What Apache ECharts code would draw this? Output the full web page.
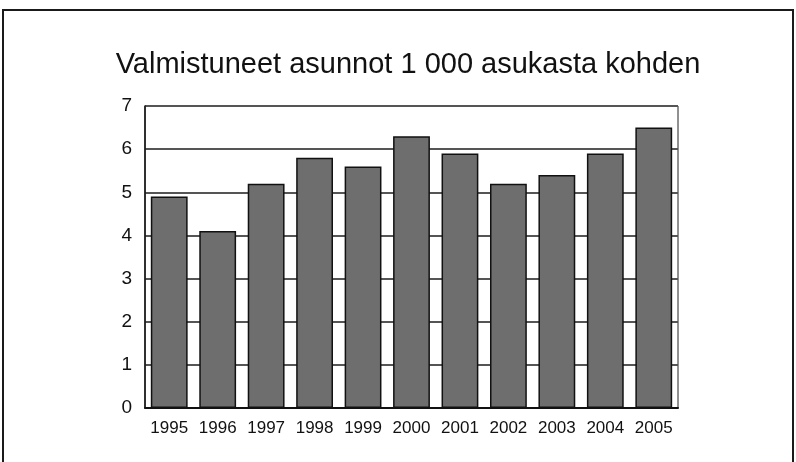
<!DOCTYPE html>
<html>
<head>
<meta charset="utf-8">
<script src="https://cdn.jsdelivr.net/npm/echarts@6/dist/echarts.min.js"></script>
<style>
  html, body { margin: 0; padding: 0; background: #fff; }
  #chart { width: 796px; height: 462px; }
</style>
</head>
<body>
<div id="chart"></div>
<script>
// vuodet ja arvot
var years = ['1995', '1996', '1997', '1998', '1999', '2000', '2001', '2002', '2003', '2004', '2005'];
var values = [4.9, 4.1, 5.2, 5.8, 5.6, 6.3, 5.9, 5.2, 5.4, 5.9, 6.5];
var titleText = 'Valmistuneet asunnot 1 000 asukasta kohden';

var font = '"Liberation Sans", Arial, sans-serif';

var myChart = echarts.init(document.getElementById('chart'));

myChart.setOption({
  backgroundColor: '#fff',
  animation: false,
  title: {
    text: titleText,
    left: 403,
    textAlign: 'center',
    top: 45,
    textStyle: {
      fontFamily: font,
      fontSize: 29,
      fontWeight: 'normal',
      color: '#111'
    }
  },
  graphic: [{
    // kehys koko kuvan ympärillä
    type: 'rect',
    shape: { x: 3, y: 10, width: 790, height: 470 },
    style: { fill: 'none', stroke: '#1a1a1a', lineWidth: 2 },
    silent: true
  }],
  grid: {
    left: 145,
    right: 118,
    top: 106,
    bottom: 54,
    show: true,
    borderColor: '#222',
    borderWidth: 1
  },
  xAxis: {
    type: 'category',
    data: years,
    axisTick: { show: false },
    axisLine: { lineStyle: { color: '#111', width: 2 } },
    axisLabel: {
      interval: 0,
      fontFamily: font,
      fontSize: 17,
      color: '#111',
      margin: 12
    }
  },
  yAxis: {
    type: 'value',
    min: 0,
    max: 7,
    interval: 1,
    axisTick: { show: false },
    axisLine: { show: true, lineStyle: { color: '#111', width: 1.5 } },
    splitLine: { lineStyle: { color: '#555', width: 2 } },
    axisLabel: {
      fontFamily: font,
      fontSize: 19,
      color: '#111',
      margin: 13
    }
  },
  series: [{
    type: 'bar',
    data: values,
    barCategoryGap: '24%',
    itemStyle: {
      color: '#6e6e6e',
      borderColor: '#111',
      borderWidth: 1.5
    }
  }]
});
</script>
</body>
</html>
